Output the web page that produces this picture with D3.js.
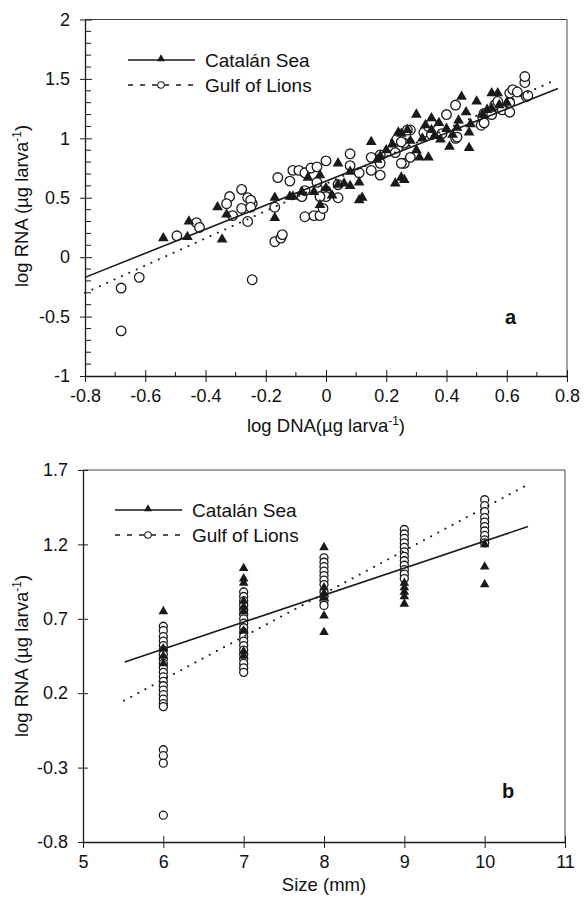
<!DOCTYPE html>
<html>
<head>
<meta charset="utf-8">
<script src="https://cdn.jsdelivr.net/npm/d3@7"></script>
<style>
  body { margin: 0; background: #fff; }
  svg { display: block; font-family: "Liberation Sans", Arial, sans-serif; }
</style>
</head>
<body>
<script>
// Panel a: log DNA vs log RNA
const catalanA = [
  [-0.54,0.16],[-0.46,0.17],[-0.455,0.30],[-0.36,0.42],[-0.345,0.15],[-0.33,0.36],
  [-0.17,0.50],[-0.17,0.33],[-0.12,0.51],[-0.11,0.51],[-0.08,0.55],[-0.06,0.67],
  [-0.04,0.55],[-0.02,0.69],[-0.02,0.44],[0.0,0.58],[0.02,0.52],[0.04,0.79],
  [0.04,0.61],[0.06,0.62],[0.08,0.72],[0.08,0.60],[0.11,0.63],[0.12,0.50],
  [0.11,0.48],[0.15,0.97],[0.17,0.82],[0.18,0.85],[0.20,0.90],[0.22,0.95],
  [0.23,0.62],[0.26,0.65],[0.25,1.04],[0.24,1.05],[0.25,0.67],[0.27,1.07],
  [0.28,0.98],[0.30,1.20],[0.30,0.90],[0.31,0.84],[0.32,1.00],[0.33,1.11],
  [0.34,0.84],[0.35,1.17],[0.35,1.07],[0.36,1.02],[0.375,1.13],[0.38,0.99],
  [0.40,1.08],[0.41,0.93],[0.42,1.03],[0.435,1.09],[0.44,1.15],[0.45,1.35],
  [0.465,1.22],[0.475,1.05],[0.475,0.92],[0.48,1.12],[0.50,1.31],[0.52,1.20],
  [0.535,1.24],[0.55,1.38],[0.55,1.25],[0.57,1.38],[0.575,1.28],[0.60,1.30]
];
const gulfA = [
  [-0.68,-0.26],[-0.68,-0.62],[-0.62,-0.17],[-0.495,0.18],[-0.43,0.29],[-0.42,0.25],
  [-0.32,0.51],[-0.33,0.45],[-0.28,0.57],[-0.26,0.50],[-0.245,0.45],[-0.28,0.41],
  [-0.31,0.35],[-0.26,0.30],[-0.245,-0.19],[-0.25,0.48],[-0.25,0.42],[-0.17,0.42],
  [-0.17,0.13],[-0.15,0.16],[-0.145,0.19],[-0.16,0.67],[-0.12,0.64],[-0.11,0.73],
  [-0.09,0.73],[-0.07,0.71],[-0.05,0.75],[-0.03,0.76],[0.0,0.81],[-0.03,0.63],
  [0.0,0.56],[0.0,0.51],[-0.02,0.51],[0.04,0.50],[-0.08,0.51],[-0.07,0.34],
  [-0.04,0.35],[-0.02,0.35],[-0.01,0.41],[-0.07,0.56],[0.04,0.61],[0.08,0.77],
  [0.08,0.87],[0.11,0.71],[0.15,0.73],[0.18,0.69],[0.18,0.86],[0.15,0.84],
  [0.18,0.79],[0.23,0.97],[0.26,0.96],[0.26,0.79],[0.23,0.88],[0.235,0.99],
  [0.25,0.97],[0.25,0.79],[0.28,0.84],[0.28,1.07],[0.27,1.07],[0.325,1.05],
  [0.35,1.03],[0.385,1.04],[0.43,1.00],[0.435,1.01],[0.34,1.10],[0.35,1.13],
  [0.40,1.20],[0.43,1.28],[0.515,1.11],[0.52,1.18],[0.525,1.21],[0.525,1.13],
  [0.55,1.20],[0.56,1.28],[0.57,1.31],[0.585,1.24],[0.61,1.30],[0.61,1.22],
  [0.61,1.38],[0.62,1.41],[0.635,1.39],[0.665,1.35],[0.67,1.36],[0.66,1.47],
  [0.66,1.52]
];
// fitted lines, end points in data units
const fitCatalanA = [[-0.8,-0.17],[0.77,1.42]];
const fitGulfA = [[-0.8,-0.30],[0.76,1.49]];

// Panel b: size vs log RNA
const catalanB = [
  [6,0.75],[6,0.50],[6,0.45],[6,0.40],
  [7,1.04],[7,0.97],[7,0.94],[7,0.82],[7,0.78],[7,0.75],[7,0.62],[7,0.48],[7,0.45],
  [8,1.18],[8,0.91],[8,0.87],[8,0.84],[8,0.72],[8,0.61],
  [9,0.94],[9,0.91],[9,0.88],[9,0.85],[9,0.80],
  [10,1.20],[10,1.05],[10,0.93]
];
const gulfB = [
  [6,0.65],[6,0.62],[6,0.58],[6,0.55],[6,0.52],[6,0.49],[6,0.46],[6,0.43],[6,0.40],
  [6,0.37],[6,0.34],[6,0.31],[6,0.28],[6,0.25],[6,0.22],[6,0.19],[6,0.16],[6,0.13],
  [6,0.11],[6,-0.18],[6,-0.22],[6,-0.27],[6,-0.62],
  [7,0.88],[7,0.85],[7,0.82],[7,0.79],[7,0.76],[7,0.73],[7,0.70],[7,0.67],[7,0.64],
  [7,0.61],[7,0.58],[7,0.55],[7,0.52],[7,0.49],[7,0.46],[7,0.43],[7,0.40],[7,0.37],
  [7,0.34],
  [8,1.11],[8,1.08],[8,1.05],[8,1.02],[8,0.99],[8,0.96],[8,0.93],[8,0.88],[8,0.85],
  [8,0.82],[8,0.79],
  [9,1.30],[9,1.27],[9,1.24],[9,1.21],[9,1.18],[9,1.15],[9,1.12],[9,1.09],[9,1.06],
  [9,1.03],[9,1.00],[9,0.97],
  [10,1.50],[10,1.46],[10,1.42],[10,1.38],[10,1.35],[10,1.32],[10,1.29],[10,1.26],
  [10,1.23],[10,1.21]
];
const fitCatalanB = [[5.52,0.41],[10.54,1.32]];
const fitGulfB = [[5.51,0.15],[10.53,1.60]];

const ticksAx = [-0.8,-0.6,-0.4,-0.2,0,0.2,0.4,0.6,0.8];
const ticksAy = [-1,-0.5,0,0.5,1,1.5,2];
const ticksBx = [5,6,7,8,9,10,11];
const ticksBy = [-0.8,-0.3,0.2,0.7,1.2,1.7];
const seriesNames = ["Catalán Sea", "Gulf of Lions"];

const width = 584, height = 902;
const ink = "#1a1a1a";
const fmt = d => String(+d.toFixed(1)); // plain hyphen minus like the original

const svg = d3.select("body").append("svg")
  .attr("width", width).attr("height", height)
  .attr("viewBox", [0, 0, width, height]);

const tri = d3.symbol(d3.symbolTriangle);

function panel(opt) {
  const x = d3.scaleLinear().domain(opt.xDomain).range(opt.xRange);
  const y = d3.scaleLinear().domain(opt.yDomain).range(opt.yRange);
  const g = svg.append("g");
  const [x0, x1] = opt.xRange, [y0, y1] = opt.yRange;

  // frame (top + right)
  g.append("path")
    .attr("d", `M${x0},${y1}H${x1}V${y0}`)
    .attr("fill", "none").attr("stroke", "#444").attr("stroke-width", 1);

  // minor ticks
  if (opt.minorX) {
    g.append("g").selectAll("line").data(opt.minorX).join("line")
      .attr("x1", d => x(d)).attr("x2", d => x(d))
      .attr("y1", y0).attr("y2", y0 - 4)
      .attr("stroke", ink);
  }
  if (opt.minorY) {
    g.append("g").selectAll("line").data(opt.minorY).join("line")
      .attr("x1", x0).attr("x2", x0 + 6)
      .attr("y1", d => y(d)).attr("y2", d => y(d))
      .attr("stroke", ink);
  }

  // x axis
  g.append("g")
    .attr("transform", `translate(0,${y0})`)
    .call(d3.axisBottom(x).tickValues(opt.xTicks).tickSizeInner(6).tickSizeOuter(0).tickFormat(fmt))
    .call(a => a.select(".domain").attr("stroke", ink).attr("stroke-width", 1.3))
    .call(a => a.selectAll(".tick line").attr("y1", -6).attr("stroke", ink))
    .call(a => a.selectAll("text").attr("font-size", 18).attr("fill", "#111")
      .attr("y", 13).attr("dy", "0.71em"));

  // y axis
  g.append("g")
    .attr("transform", `translate(${x0},0)`)
    .call(d3.axisLeft(y).tickValues(opt.yTicks).tickSizeInner(5).tickSizeOuter(0).tickFormat(fmt))
    .call(a => a.select(".domain").attr("stroke", ink).attr("stroke-width", 1.3))
    .call(a => a.selectAll(".tick line").attr("x1", opt.yTickIn).attr("x2", -5).attr("stroke", ink))
    .call(a => a.selectAll("text").attr("font-size", 18).attr("fill", "#111").attr("x", -15));

  // points: circles then triangles
  g.append("g").selectAll("circle").data(opt.gulf).join("circle")
    .attr("cx", d => x(d[0])).attr("cy", d => y(d[1]))
    .attr("r", opt.r)
    .attr("fill", "#fff").attr("stroke", ink).attr("stroke-width", 1.3);

  g.append("g").selectAll("path").data(opt.catalan).join("path")
    .attr("transform", d => `translate(${x(d[0])},${y(d[1])})`)
    .attr("d", tri.size(opt.triSize)())
    .attr("fill", ink);

  // fitted lines
  const line = d3.line().x(d => x(d[0])).y(d => y(d[1]));
  g.append("path").datum(opt.fitGulf).attr("d", line)
    .attr("fill", "none").attr("stroke", ink).attr("stroke-width", 2)
    .attr("stroke-dasharray", "0.1,8").attr("stroke-linecap", "round");
  g.append("path").datum(opt.fitCatalan).attr("d", line)
    .attr("fill", "none").attr("stroke", ink).attr("stroke-width", 1.6);

  // legend
  const lg = g.append("g").attr("transform", `translate(${opt.legend[0]},${opt.legend[1]})`);
  seriesNames.forEach((name, i) => {
    const row = lg.append("g").attr("transform", `translate(0,${i * 25})`);
    row.append("line").attr("x1", 0).attr("x2", 67)
      .attr("stroke", ink).attr("stroke-width", i === 0 ? 1.5 : 1.3)
      .attr("stroke-dasharray", i === 0 ? null : "5,7");
    if (i === 0) {
      row.append("path").attr("transform", "translate(33,-1)")
        .attr("d", tri.size(28)()).attr("fill", ink);
    } else {
      row.append("circle").attr("cx", 33).attr("r", 3.3)
        .attr("fill", "#fff").attr("stroke", ink).attr("stroke-width", 1.1);
    }
    row.append("text").attr("x", 77).attr("y", 6.5)
      .attr("font-size", 19).attr("fill", "#111").text(name);
  });

  // panel letter
  g.append("text").attr("x", opt.letterPos[0]).attr("y", opt.letterPos[1])
    .attr("font-size", 20).attr("font-weight", "bold").attr("fill", "#111")
    .text(opt.letter);

  // axis titles
  const xt = g.append("text").attr("x", (x0 + x1) / 2).attr("y", opt.xTitleY)
    .attr("text-anchor", "middle").attr("font-size", 18.5).attr("fill", "#111");
  opt.xTitle(xt);

  const yt = g.append("text")
    .attr("transform", `translate(28,${opt.yTitleY}) rotate(-90)`)
    .attr("text-anchor", "middle").attr("font-size", 18.5).attr("fill", "#111");
  yt.append("tspan").text("log RNA (\u00b5g larva");
  yt.append("tspan").attr("font-size", 12).attr("dy", -7).text("-1");
  yt.append("tspan").attr("dy", 7).text(")");
}

panel({
  xDomain: [-0.8, 0.8], xRange: [85, 567],
  yDomain: [-1, 2], yRange: [376, 19.5],
  xTicks: ticksAx, yTicks: ticksAy,
  minorX: d3.range(-7, 8, 2).map(d => d / 10),
  minorY: d3.range(-9, 20).filter(d => d % 5 !== 0).map(d => d / 10),
  yTickIn: 7,
  catalan: catalanA, gulf: gulfA, r: 4.8, triSize: 50,
  fitCatalan: fitCatalanA, fitGulf: fitGulfA,
  legend: [128, 60], letter: "a", letterPos: [505, 324],
  xTitleY: 432, yTitleY: 206,
  xTitle: t => {
    t.append("tspan").text("log DNA(\u00b5g larva");
    t.append("tspan").attr("font-size", 12).attr("dy", -7).text("-1");
    t.append("tspan").attr("dy", 7).text(")");
  }
});

panel({
  xDomain: [5, 11], xRange: [83, 565],
  yDomain: [-0.8, 1.7], yRange: [842, 470],
  xTicks: ticksBx, yTicks: ticksBy,
  minorX: null, minorY: null,
  yTickIn: 5,
  catalan: catalanB, gulf: gulfB, r: 4, triSize: 40,
  fitCatalan: fitCatalanB, fitGulf: fitGulfB,
  legend: [115, 510], letter: "b", letterPos: [502, 798],
  xTitleY: 891, yTitleY: 656,
  xTitle: t => t.text("Size (mm)")
});
</script>
</body>
</html>
